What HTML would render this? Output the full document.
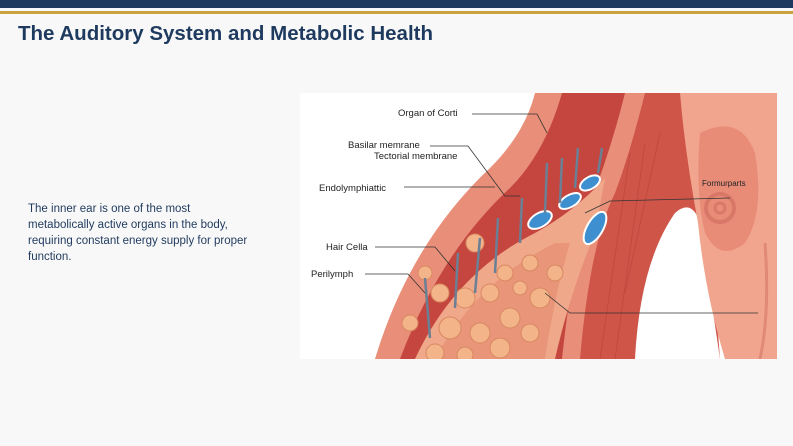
<!DOCTYPE html>
<html><head><style>
body{margin:0;width:793px;height:446px;background:#f8f8f8;font-family:"Liberation Sans",sans-serif;position:relative;overflow:hidden}
.nav{position:absolute;left:0;top:0;width:793px;height:8px;background:#1f3a5f}
.gold{position:absolute;left:0;top:11px;width:793px;height:3px;background:#c9a43e}
h1{position:absolute;left:18px;top:22px;margin:0;font-size:20.5px;font-weight:bold;color:#1f3a5f}
p{position:absolute;left:28px;top:201px;width:232px;margin:0;font-size:11.5px;line-height:16px;color:#1f3a5f}
svg{position:absolute;left:300px;top:93px}
</style></head><body>
<div class="nav"></div><div class="gold"></div>
<h1>The Auditory System and Metabolic Health</h1>
<p>The inner ear is one of the most metabolically active organs in the body, requiring constant energy supply for proper function.</p>
<svg width="477" height="266" viewBox="0 0 477 266">
<rect width="477" height="266" fill="#fff"/>
<!-- muscle -->
<path d="M260 0 L400 0 L420 266 L250 266 Z" fill="#cf5549"/>
<g stroke="#b94239" stroke-width="1" opacity="0.6">
<line x1="330" y1="60" x2="300" y2="266"/><line x1="345" y1="50" x2="315" y2="266"/><line x1="360" y1="40" x2="325" y2="200"/>
</g>
<!-- white gap -->
<path d="M335 266 Q340 170 375 120 Q392 105 400 130 L420 266 Z" fill="#fff"/>
<!-- ear -->
<path d="M380 0 L477 0 L477 266 L425 266 Q405 200 398 130 Q385 60 380 0Z" fill="#f2a58e"/>
<path d="M400 40 Q440 20 455 60 Q465 120 445 150 Q420 170 405 140 Q395 100 400 40Z" fill="#e88c78"/>
<circle cx="420" cy="115" r="14" fill="none" stroke="#d97868" stroke-width="4"/>
<circle cx="420" cy="115" r="5" fill="none" stroke="#d97868" stroke-width="3"/>
<path d="M465 150 Q470 220 460 266" stroke="#e08a76" stroke-width="3" fill="none"/>
<!-- tube outer -->
<path d="M75 266 Q110 150 190 75 Q225 40 235 0 L345 0 Q330 60 315 100 Q290 150 280 266Z" fill="#e98e78"/>
<path d="M100 266 Q140 160 210 95 Q245 60 262 0 L325 0 Q310 60 290 110 Q272 170 262 266Z" fill="#c4463f"/>
<!-- inner organ band -->
<path d="M115 266 Q155 180 235 140 Q275 118 305 85 L295 140 Q270 200 255 266Z" fill="#f0a88a"/>
<path d="M135 266 Q175 190 255 150 L270 150 Q255 200 245 266Z" fill="#e8957a"/>
<g fill="#f3b48a" stroke="#d98860" stroke-width="1">
<circle cx="140" cy="200" r="9"/><circle cx="165" cy="205" r="10"/><circle cx="190" cy="200" r="9"/>
<circle cx="150" cy="235" r="11"/><circle cx="180" cy="240" r="10"/><circle cx="210" cy="225" r="10"/>
<circle cx="240" cy="205" r="10"/><circle cx="230" cy="170" r="8"/><circle cx="205" cy="180" r="8"/>
<circle cx="125" cy="180" r="7"/><circle cx="110" cy="230" r="8"/><circle cx="135" cy="260" r="9"/>
<circle cx="200" cy="255" r="10"/><circle cx="255" cy="180" r="8"/><circle cx="175" cy="150" r="9"/>
<circle cx="230" cy="240" r="9"/><circle cx="165" cy="262" r="8"/><circle cx="220" cy="195" r="7"/>
</g>
<g fill="#3e8fd0" stroke="#fff" stroke-width="2">
<ellipse cx="240" cy="127" rx="13" ry="7" transform="rotate(-30 240 127)"/>
<ellipse cx="270" cy="108" rx="12" ry="6" transform="rotate(-30 270 108)"/>
<ellipse cx="290" cy="90" rx="11" ry="6" transform="rotate(-30 290 90)"/>
<ellipse cx="295" cy="135" rx="8" ry="18" transform="rotate(30 295 135)"/>
</g>
<g stroke="#6b7f95" stroke-width="2.5">
<line x1="130" y1="245" x2="125" y2="185"/><line x1="155" y1="215" x2="158" y2="160"/>
<line x1="175" y1="200" x2="180" y2="145"/><line x1="195" y1="180" x2="198" y2="125"/>
<line x1="220" y1="150" x2="222" y2="105"/><line x1="245" y1="120" x2="247" y2="70"/>
<line x1="260" y1="110" x2="262" y2="65"/><line x1="275" y1="95" x2="278" y2="55"/>
<line x1="298" y1="80" x2="302" y2="55"/>
</g>
<g font-size="9.5" fill="#222" font-family="Liberation Sans,sans-serif">
<text x="98" y="23">Organ of Corti</text>
<text x="48" y="55">Basilar memrane</text>
<text x="74" y="66">Tectorial membrane</text>
<text x="19" y="98">Endolymphiattic</text>
<text x="26" y="157">Hair Cella</text>
<text x="11" y="184">Perilymph</text>
<text x="402" y="93" font-size="8">Formurparts</text>
</g>
<g stroke="#333" stroke-width="0.8" fill="none">
<path d="M172 21 L237 21 L247 40"/>
<path d="M130 53 L168 53 L205 103 L220 103"/>
<path d="M104 94 L195 94"/>
<path d="M75 154 L135 154 L155 178"/>
<path d="M65 181 L108 181 L125 200"/>
<path d="M285 120 L310 108 L430 105"/>
<path d="M245 200 L270 220 L458 220"/>
</g>
</svg>
</body></html>
